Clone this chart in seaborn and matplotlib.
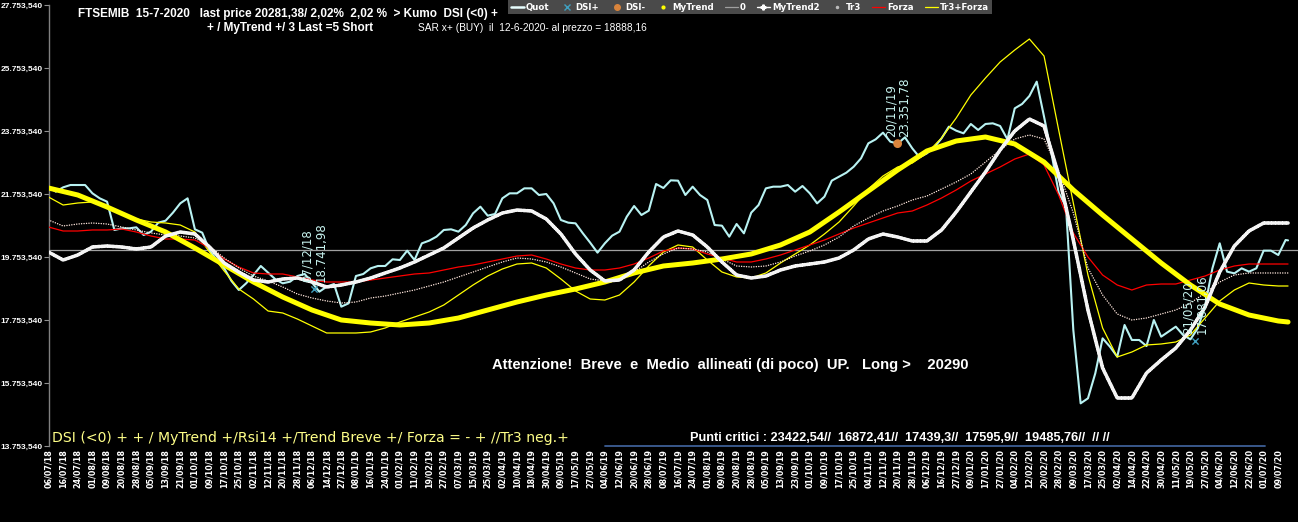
import numpy as np
import pandas as pd
import matplotlib
matplotlib.use("Agg")
import matplotlib.pyplot as plt
import seaborn as sns
from matplotlib.lines import Line2D

# ---------------- data ----------------
tick_labels = [
    "06/07/18", "16/07/18", "24/07/18", "01/08/18", "09/08/18", "20/08/18", "28/08/18", "05/09/18",
    "13/09/18", "21/09/18", "01/10/18", "09/10/18", "17/10/18", "25/10/18", "02/11/18", "12/11/18",
    "20/11/18", "28/11/18", "06/12/18", "14/12/18", "27/12/18", "08/01/19", "16/01/19", "24/01/19",
    "01/02/19", "11/02/19", "19/02/19", "27/02/19", "07/03/19", "15/03/19", "25/03/19", "02/04/19",
    "10/04/19", "18/04/19", "30/04/19", "09/05/19", "17/05/19", "27/05/19", "04/06/19", "12/06/19",
    "20/06/19", "28/06/19", "08/07/19", "16/07/19", "24/07/19", "01/08/19", "09/08/19", "20/08/19",
    "28/08/19", "05/09/19", "13/09/19", "23/09/19", "01/10/19", "09/10/19", "17/10/19", "25/10/19",
    "04/11/19", "12/11/19", "20/11/19", "28/11/19", "06/12/19", "16/12/19", "27/12/19", "09/01/20",
    "17/01/20", "27/01/20", "04/02/20", "12/02/20", "20/02/20", "28/02/20", "09/03/20", "17/03/20",
    "25/03/20", "02/04/20", "14/04/20", "22/04/20", "30/04/20", "11/05/20", "19/05/20", "27/05/20",
    "04/06/20", "12/06/20", "22/06/20", "01/07/20", "09/07/20",
]
tick_every = 6          # trading sessions between date labels
last_session = 508      # 15/07/2020

quot = [
    21986, 21828, 21965, 22039, 22039, 22039, 21775, 21616, 21510, 20611,
    20663, 20663, 20695, 20452, 20558, 20844, 20907, 21161, 21457, 21616,
    20632, 20526, 19955, 19658, 19394, 18991, 18706, 18918, 19182, 19468,
    19256, 19045, 18918, 18970, 19150, 19214, 18939, 18653, 18811, 18896,
    18177, 18283, 19150, 19214, 19394, 19468, 19468, 19680, 19658, 19955,
    19658, 20187, 20272, 20399, 20611, 20632, 20558, 20769, 21140,
    21351, 21066, 21119, 21616, 21775, 21775, 21933, 21933, 21722, 21754,
    21457, 20928, 20844, 20822, 20505, 20208, 19891, 20187, 20431, 20558,
    21034, 21373, 21087, 21224, 22071, 21944, 22187, 22177, 21722, 21986,
    21722, 21563, 20769, 20748, 20399, 20801, 20505, 21161, 21404, 21933,
    21986, 21986, 22039, 21827, 22007, 21775, 21457, 21669, 22177, 22304,
    22431, 22621, 22886, 23362, 23489, 23701, 23415, 23352, 23553,
    23203, 22917, 23044, 23235, 23521, 23891, 23764, 23680, 23976, 23786,
    23976, 23997, 23912, 23489, 24473, 24611, 24865, 25320, 24209, 23066,
    21796, 21351, 17436, 15108, 15267, 16060, 17172, 16907, 16590, 17595,
    17119, 17119, 16928, 17754, 17224, 17383, 17542, 17277, 17140, 17489,
    18198, 19394, 20188, 19288, 19235, 19394, 19288, 19394, 19955, 19955,
    19817, 20293, 20281.38,
]
quot_step = 3

mytrend = [
    21944, 21722, 21341, 20928, 20547, 20039, 19500, 18960, 18484, 18071,
    17754, 17658, 17595, 17658, 17817, 18071, 18325, 18547, 18738, 18960,
    19246, 19468, 19563, 19690, 19849, 20135, 20547, 21182, 21849, 22515,
    23119, 23436, 23563, 23341, 22769, 21881, 21087, 20325, 19563, 18865,
    18262, 17912, 17722, 17690,
]
mytrend_step = 12

mytrend2 = [
    19912, 19658, 19817, 20071, 20103, 20071, 20008, 20071, 20420, 20547,
    20484, 20071, 19563, 19277, 19023, 18960, 19055, 19087, 18960, 18801,
    18865, 18960, 19087, 19246, 19404, 19595, 19817, 20039, 20357, 20674,
    20928, 21150, 21245, 21214, 20960, 20484, 19849, 19341, 18992, 19023,
    19341, 19912, 20388, 20579, 20452, 20071, 19595, 19182, 19087, 19150,
    19341, 19468, 19531, 19595, 19722, 19976, 20325, 20484, 20388, 20262,
    20262, 20611, 21182, 21817, 22452, 23150, 23754, 24134, 23912, 22356,
    20293, 18071, 16230, 15277, 15277, 16071, 16484, 16864, 17436, 18166,
    19277, 20103, 20579, 20833, 20833, 20833,
]
tr3 = [
    20928, 20738, 20801, 20833, 20801, 20706, 20611, 20516, 20452, 20420,
    20357, 20103, 19722, 19404, 19150, 18992, 18801, 18579, 18452, 18357,
    18293, 18325, 18452, 18515, 18611, 18706, 18833, 18960, 19119, 19277,
    19436, 19595, 19722, 19690, 19595, 19436, 19246, 19055, 18992, 19087,
    19277, 19595, 19849, 20039, 20008, 19912, 19690, 19468, 19436, 19468,
    19595, 19785, 19944, 20135, 20388, 20738, 20992, 21214, 21373, 21563,
    21690, 21912, 22135, 22389, 22769, 23150, 23500, 23627, 23500, 22484,
    21150, 19404, 18547, 17944, 17753, 17817, 17944, 18071, 18293, 18611,
    18960, 19182, 19246, 19246, 19246, 19246,
]
forza = [
    20706, 20579, 20579, 20611, 20611, 20642, 20547, 20420, 20325, 20325,
    20293, 20039, 19690, 19436, 19246, 19214, 19214, 19119, 19023, 18960,
    18960, 18960, 19023, 19087, 19150, 19214, 19246, 19341, 19436, 19500,
    19595, 19690, 19785, 19817, 19690, 19531, 19404, 19341, 19341, 19404,
    19531, 19722, 19944, 20039, 20008, 19849, 19722, 19595, 19595, 19690,
    19817, 19976, 20135, 20293, 20484, 20674, 20833, 20992, 21150, 21214,
    21404, 21626, 21881, 22166, 22389, 22611, 22864, 23023, 22674, 21722,
    20516, 19753, 19182, 18865, 18706, 18865, 18896, 18896, 19023, 19150,
    19341, 19468, 19531, 19531, 19531, 19531,
]
tr3_forza = [
    21658, 21404, 21468, 21500, 21309, 21119, 20960, 20865, 20833, 20769,
    20547, 19912, 19309, 18738, 18420, 18039, 17976, 17785, 17563, 17341,
    17341, 17341, 17373, 17500, 17690, 17849, 18008, 18230, 18547, 18865,
    19150, 19373, 19531, 19563, 19404, 19055, 18674, 18420, 18388, 18547,
    18960, 19468, 19912, 20135, 20071, 19658, 19277, 19119, 19087, 19246,
    19563, 19849, 20135, 20484, 20865, 21373, 21912, 22325, 22611, 22737,
    23055, 23531, 24166, 24896, 25436, 25944, 26325, 26674, 26134, 23785,
    21468, 19182, 17500, 16579, 16738, 16960, 16992, 17055, 17277, 17817,
    18357, 18706, 18928, 18865, 18833, 18833,
]
ind_step = 6
zero_level = 19976

dsi_plus_bar = [109, 470]
dsi_plus_val = [18741.98, 17081.06]
dsi_plus_date = ["07/12/18", "21/05/20"]
dsi_plus_text = ["18.741,98", "17.081,06"]
dsi_minus_bar = [348]
dsi_minus_val = [23351.78]
dsi_minus_date = ["20/11/19"]
dsi_minus_text = ["23.351,78"]

ytick_values = [13753.54, 15753.54, 17753.54, 19753.54, 21753.54, 23753.54, 25753.54, 27753.54]


def bars_for(values, step):
    n = len(values)
    b = list(range(0, step * (n - 1), step))
    return b + [last_session]


def it_fmt(v):
    s = f"{v:,.3f}"
    return s.replace(",", "X").replace(".", ",").replace("X", ".")


# ---------------- figure ----------------
W, H = 1298, 522
sns.set_theme(style="dark")
plt.rcParams.update({
    "figure.facecolor": "black", "axes.facecolor": "black", "savefig.facecolor": "black",
    "text.color": "white", "axes.edgecolor": "#808080",
})
plt.rcParams["font.family"] = ["DejaVu Sans"]

fig = plt.figure(figsize=(W / 100, H / 100), dpi=100)
ax = fig.add_axes([48.5 / W, (H - 446) / H, 1249.3 / W, 441 / H])
ax.set_facecolor("black")

ax.axhline(zero_level, color="#a0a0a0", lw=0.9, zorder=1)

def line(vals, step, **kw):
    df = pd.DataFrame({"bar": bars_for(vals, step), "v": vals})
    sns.lineplot(data=df, x="bar", y="v", ax=ax, estimator=None, sort=False, legend=False, **kw)

line(quot, quot_step, color="#b8f2f2", linewidth=1.5, zorder=2)
line(tr3_forza, ind_step, color="#ffff00", linewidth=0.9, zorder=3)
line(forza, ind_step, color="#ff0000", linewidth=0.9, zorder=3)
line(tr3, ind_step, color="#ffe6dc", linewidth=1.1, linestyle=(0, (0.01, 1.6)),
     dash_capstyle="round", zorder=4)
line(mytrend, mytrend_step, color="#ffff00", linewidth=3.6, zorder=5)
line(mytrend2, ind_step, color="#f4f4f4", linewidth=2.6, linestyle=(0, (0.55, 0.45)),
     dash_capstyle="round", zorder=6)

sns.scatterplot(x=dsi_minus_bar, y=dsi_minus_val, ax=ax, color="#d9843c", s=40,
                edgecolor="none", zorder=7, legend=False)
sns.scatterplot(x=dsi_plus_bar, y=dsi_plus_val, ax=ax, color="#40a0c0", marker="x", s=20,
                linewidth=1.0, zorder=7, legend=False)

for b, v, d, t in list(zip(dsi_plus_bar, dsi_plus_val, dsi_plus_date, dsi_plus_text)) + \
        list(zip(dsi_minus_bar, dsi_minus_val, dsi_minus_date, dsi_minus_text)):
    for dx, s in ((-7, d), (7, t)):
        ax.annotate(s, xy=(b, v), xytext=(dx, 7), textcoords="offset pixels", rotation=90,
                    ha="center", va="bottom", fontsize=8.5, color="#c8f4f0", zorder=8)

ax.set_xlim(0, 512)
ax.set_ylim(13753.54, 27753.54)
ax.set_xticks(list(range(0, tick_every * len(tick_labels), tick_every)))
ax.set_xticklabels(tick_labels, rotation=90, fontsize=5.8, fontweight="bold", color="white")
ax.tick_params(axis="x", length=0, pad=2)
ax.set_yticks(ytick_values)
ax.set_yticklabels([it_fmt(v) for v in ytick_values], fontsize=6, fontweight="bold",
                   color="white", family="Liberation Sans")
ax.tick_params(axis="y", length=3.5, width=0.8, color="#909090", pad=0.8, left=True)
ax.set_xlabel("")
ax.set_ylabel("")
for sp in ("top", "right", "bottom"):
    ax.spines[sp].set_visible(False)
ax.spines["left"].set_color("#808080")
ax.spines["left"].set_linewidth(1.0)
ax.grid(False)

# ---------------- legend ----------------
handles = [
    Line2D([], [], color="#e8ffff", lw=1.8),
    Line2D([], [], color="#40a0c0", marker="x", lw=0, markersize=4),
    Line2D([], [], color="#d9843c", marker="o", lw=0, markersize=4),
    Line2D([], [], color="#ffff00", marker="o", lw=0, markersize=2),
    Line2D([], [], color="#a0a0a0", lw=0.9),
    Line2D([], [], color="#ffffff", lw=1.0, marker="P", markersize=3.5),
    Line2D([], [], color="#bbbbbb", marker="o", lw=0, markersize=1.5),
    Line2D([], [], color="#ff0000", lw=0.9),
    Line2D([], [], color="#ffff00", lw=0.9),
]
labels = ["Quot", "DSI+", "DSI-", "MyTrend", "0", "MyTrend2", "Tr3", "Forza", "Tr3+Forza"]
leg = fig.legend(handles, labels, loc="upper left", bbox_to_anchor=(508 / W, 1.0), ncol=9,
                 frameon=True, facecolor="#4a4a4a", edgecolor="#4a4a4a", fancybox=False,
                 framealpha=1, prop={"size": 6.2, "weight": "bold"}, labelcolor="white",
                 handlelength=1.5, handletextpad=0.25, columnspacing=1.3, borderpad=0.3,
                 borderaxespad=0)
leg.get_frame().set_linewidth(0)

# ---------------- texts ----------------
def fx(x):
    return x / W

def fy(y):
    return 1 - y / H

fig.text(fx(78), fy(14), "FTSEMIB  15-7-2020   last price 20281,38/ 2,02%  2,02 %  > Kumo  DSI (<0) +",
         family="Liberation Sans", fontsize=8.5, fontweight="bold", color="white", va="center", ha="left")
fig.text(fx(207), fy(28), "+ / MyTrend +/ 3 Last =5 Short",
         family="Liberation Sans", fontsize=8.5, fontweight="bold", color="white", va="center", ha="left")
fig.text(fx(418), fy(28), "SAR x+ (BUY)  il  12-6-2020- al prezzo = 18888,16",
         family="Liberation Sans", fontsize=7.3, color="white", va="center", ha="left")
fig.text(fx(492), fy(365), "Attenzione!  Breve  e  Medio  allineati (di poco)  UP.   Long >    20290",
         family="Liberation Sans", fontsize=10.6, fontweight="bold", color="white", va="center", ha="left")
fig.text(fx(52), fy(438), "DSI (<0) + + / MyTrend +/Rsi14 +/Trend Breve +/ Forza = - + //Tr3 neg.+",
         family="DejaVu Sans", fontsize=10.1, color="#ffff88", va="center", ha="left")
fig.text(fx(690), fy(438), "Punti critici : 23422,54//  16872,41//  17439,3//  17595,9//  19485,76//  // //",
         family=["Liberation Sans Narrow", "Liberation Sans"], fontsize=9.2, fontweight="bold",
         color="white", va="center", ha="left")
fig.add_artist(Line2D([fx(605), fx(1265)], [fy(446), fy(446)], color="#3d5f95", lw=1.3))

fig.savefig("out.png", dpi=100, facecolor="black")
